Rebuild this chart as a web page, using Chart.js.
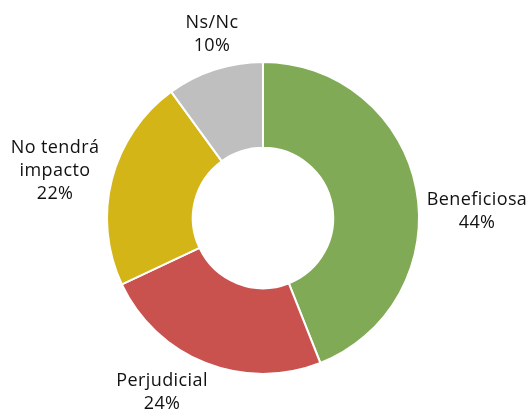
<!DOCTYPE html>
<html>
<head>
<meta charset="utf-8">
<script src="https://cdn.jsdelivr.net/npm/chart.js@4"></script>
<style>
  html, body { margin: 0; padding: 0; background: #fff; }
  #wrap { width: 530px; height: 412px; position: relative; }
</style>
</head>
<body>
<div id="wrap"><canvas id="pie"></canvas></div>
<script>
"use strict";

const labels = [["Beneficiosa"], ["Perjudicial"], ["No tendrá", "impacto"], ["Ns/Nc"]];
const values = [44, 24, 22, 10];
const colors = ["#80AA55", "#C9524E", "#D3B518", "#BFBFBF"];

// label centre, relative to doughnut centre, in units of outer radius
const labelSpots = [[1.372, -0.04], [-0.647, 1.12], [-1.333, -0.30], [-0.327, -1.18]];

const outsideLabels = {
  id: "outsideLabels",
  afterDraw(c) {
    const ctx = c.ctx;
    const arc = c.getDatasetMeta(0).data[0];
    const cx = arc.x, cy = arc.y, r = arc.outerRadius;
    ctx.save();
    ctx.fillStyle = "#111";
    ctx.font = "18px 'Open Sans'";
    if ("letterSpacing" in ctx) ctx.letterSpacing = "0.4px";
    ctx.textAlign = "center";
    ctx.textBaseline = "middle";
    const lh = 23;
    labels.forEach((lines, i) => {
      const all = lines.concat([values[i] + "%"]);
      const x = cx + labelSpots[i][0] * r;
      const y0 = cy + labelSpots[i][1] * r - (all.length - 1) * lh / 2;
      all.forEach((t, k) => ctx.fillText(t, x, y0 + k * lh));
    });
    ctx.restore();
  },
};

new Chart(document.getElementById("pie"), {
  type: "doughnut",
  data: {
    labels: labels.map((l) => l.join(" ")),
    datasets: [{
      data: values,
      backgroundColor: colors,
      borderColor: "#ffffff",
      borderWidth: 2,
    }],
  },
  options: {
    responsive: true,
    maintainAspectRatio: false,
    animation: false,
    cutout: "45%",
    layout: { padding: { top: 61, bottom: 37, left: 106, right: 110 } },
    plugins: {
      legend: { display: false },
      tooltip: { enabled: false },
    },
  },
  plugins: [outsideLabels],
});
</script>
</body>
</html>
